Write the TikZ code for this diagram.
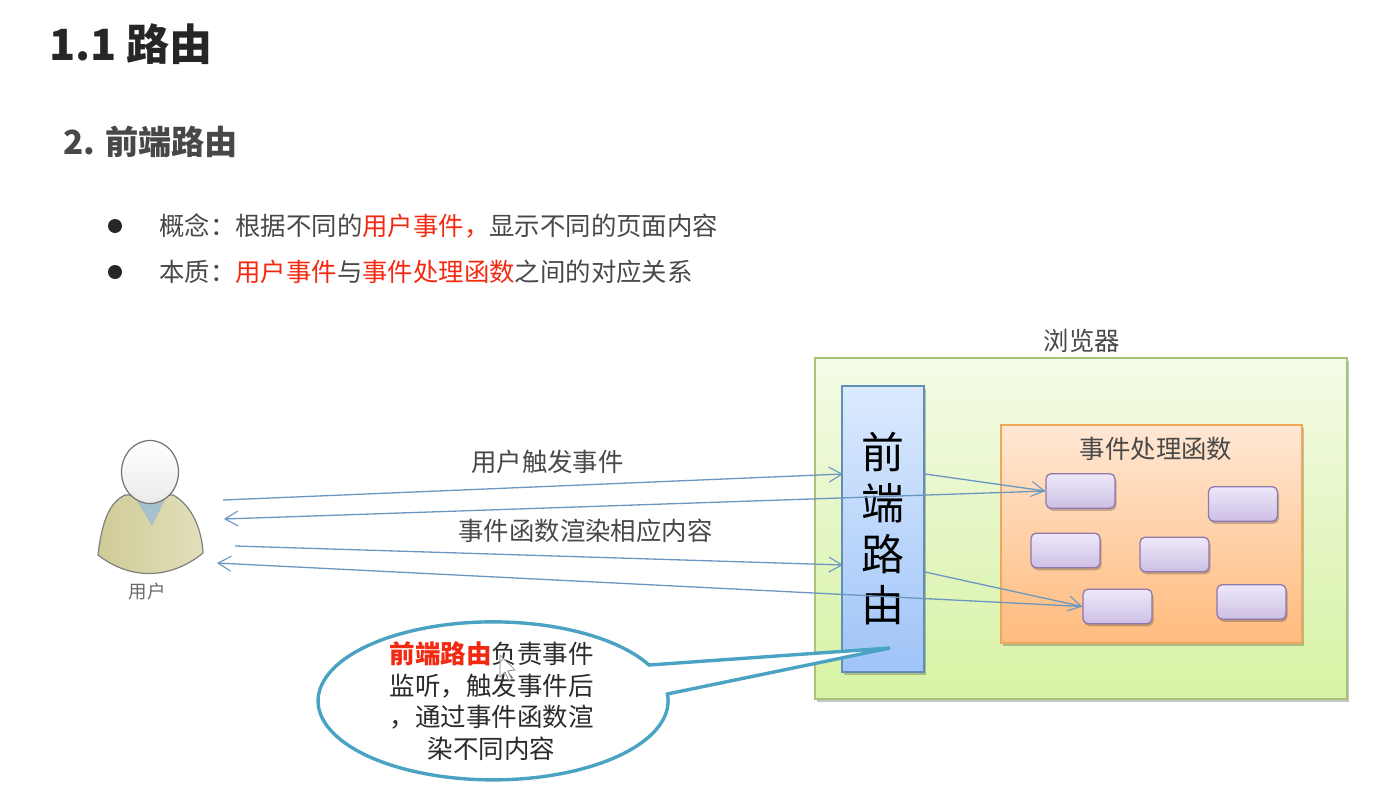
\documentclass[tikz,border=0pt]{standalone}
\usepackage{fontspec}
\setmainfont{Noto Sans CJK SC}
\usepackage{tikz}
\usetikzlibrary{arrows.meta, positioning, calc, shadows, shapes.geometric}
\usepackage{xcolor}
\definecolor{inkgray}{HTML}{484848}
\definecolor{softgray}{HTML}{6A6A6A}
\definecolor{hotred}{HTML}{F32A12}
\definecolor{wireblue}{HTML}{6A97BF}
\definecolor{calloutteal}{HTML}{4BA3C3}
\definecolor{browsertop}{HTML}{F3FBE6}
\definecolor{browserbot}{HTML}{D7F2A3}
\definecolor{browserline}{HTML}{A9C27A}
\definecolor{routertop}{HTML}{DBEAFE}
\definecolor{routerbot}{HTML}{9FC4F8}
\definecolor{routerline}{HTML}{5F8FB5}
\definecolor{handlertop}{HTML}{FFE7D4}
\definecolor{handlerbot}{HTML}{FFBB7D}
\definecolor{handlerline}{HTML}{EFA75A}
\definecolor{functop}{HTML}{EEE8F9}
\definecolor{funcbot}{HTML}{CDBFE4}
\definecolor{funcline}{HTML}{8E78AC}
\definecolor{bodyleft}{HTML}{CFCB96}
\definecolor{bodyright}{HTML}{E2E0BC}
\tikzset{
  txt/.style={anchor=west, text=inkgray, inner sep=0pt, font=\fontsize{25.4}{30}\selectfont},
  boxshadow/.style={drop shadow={shadow xshift=1.5pt, shadow yshift=-2.5pt, opacity=.22, fill=black}},
  funcbox/.style={draw=funcline, line width=1.3pt, rounded corners=5pt, top color=functop, bottom color=funcbot,
    minimum width=69pt, minimum height=34.5pt, inner sep=0pt, boxshadow},
  wire/.style={wireblue, line width=1.3pt, -{Straight Barb[length=13pt, width=15pt, line width=1.1pt]}},
}
\begin{document}
\begin{tikzpicture}[x=1pt, y=-1pt]
  \useasboundingbox (0,0) rectangle (1380,787);
  % headings and bullets
  \node[anchor=west, text=black!85, inner sep=0pt, font=\fontsize{43}{48}\selectfont\bfseries] (title) at (49,44) {1.1 路由};
  \node[anchor=west, text=inkgray, inner sep=0pt, font=\fontsize{33.2}{40}\selectfont\bfseries] (subtitle) at (63,142) {2. 前端路由};
  \fill[black!85] (115,226) circle (7);
  \fill[black!85] (115,272) circle (7);
  \node[txt] (concept) at (159,226) {概念：根据不同的\textcolor{hotred}{用户事件，}显示不同的页面内容};
  \node[txt] (essence) at (159,272) {本质：\textcolor{hotred}{用户事件}与\textcolor{hotred}{事件处理函数}之间的对应关系};
  % user figure
  \draw[black!50, line width=1.2pt, left color=bodyleft, right color=bodyright]
    (98,555) .. controls (102,520) and (110,502) .. (125,495) -- (173,495)
    .. controls (192,505) and (202,530) .. (203,553)
    .. controls (170,580) and (130,580) .. (98,555) -- cycle;
  \draw[black!30, fill=blue!30!cyan!30!gray!55] (135,497) -- (152,525) -- (166,497) -- cycle;
  \draw[black!55, line width=1.2pt, top color=white, bottom color=black!8] (150,472) ellipse [x radius=28.5pt, y radius=31.5pt];
  \node[text=softgray, inner sep=0pt, font=\fontsize{18.5}{20}\selectfont] (user) at (147,591) {用户};
  % browser
  \node[txt, anchor=center] (browserlabel) at (1082,341) {浏览器};
  \node[draw=browserline, line width=1.2pt, top color=browsertop, bottom color=browserbot,
    minimum width=532pt, minimum height=341pt, inner sep=0pt, boxshadow] (browser) at (1081,528.5) {};
  \node[draw=routerline, line width=1.2pt, top color=routertop, bottom color=routerbot,
    minimum width=82pt, minimum height=286pt, inner sep=0pt, boxshadow,
    align=center, font=\fontsize{43}{51}\selectfont, text=black] (router) at (883,529) {前\\端\\路\\由};
  \node[draw=handlerline, line width=1.2pt, top color=handlertop, bottom color=handlerbot,
    minimum width=301pt, minimum height=218pt, inner sep=0pt, boxshadow] (handlers) at (1151.5,534) {};
  \node[txt, anchor=center] (handlerlabel) at (1156,449) {事件处理函数};
  \node[funcbox] (funca) at (1080.5,491) {};
  \node[funcbox] (funcb) at (1243,504) {};
  \node[funcbox] (funcc) at (1065.5,550.5) {};
  \node[funcbox] (funcd) at (1174.5,554.5) {};
  \node[funcbox] (funce) at (1117.5,606.5) {};
  \node[funcbox] (funcf) at (1251.5,602) {};
  % connector ends
  \coordinate (usera) at (223,500);
  \coordinate (userb) at (224,519);
  \coordinate (userc) at (235,546);
  \coordinate (userd) at (217,563);
  \coordinate (routera) at (843,474);
  \coordinate (routerb) at (843,565);
  \coordinate (routerc) at (925,474);
  \coordinate (routerd) at (925,572);
  \draw[wire] (usera) -- (routera);
  \draw[wire] (funca.west) -- (userb);
  \draw[wire] (userc) -- (routerb);
  \draw[wire] (funce.west) -- (userd);
  \draw[wire] (routerc) -- (funca.west);
  \draw[wire] (routerd) -- (funce.west);
  \node[txt, anchor=center] (firelabel) at (547.5,462) {用户触发事件};
  \node[txt, anchor=center] (renderlabel) at (585.5,531) {事件函数渲染相应内容};
  % callout
  \draw[calloutteal, line width=3.4pt, fill=white, line join=miter]
    (649,665) arc [start angle=27, end angle=365, x radius=175pt, y radius=79pt] -- (890,648) -- cycle;
  \node[text=inkgray!60!black, align=center, inner sep=0pt, font=\fontsize{25.5}{31.5}\selectfont] (calloutlabel) at (491.5,701)
    {\textcolor{hotred}{\bfseries 前端路由}负责事件\\监听，触发事件后\\，通过事件函数渲\\染不同内容};
  % mouse pointer
  \draw[black!50, fill=white, fill opacity=.7, line width=.7pt]
    (500,655) -- (500,677) -- (505,672) -- (509,681) -- (512,679) -- (508,671) -- (515,670) -- cycle;
\end{tikzpicture}
\end{document}
